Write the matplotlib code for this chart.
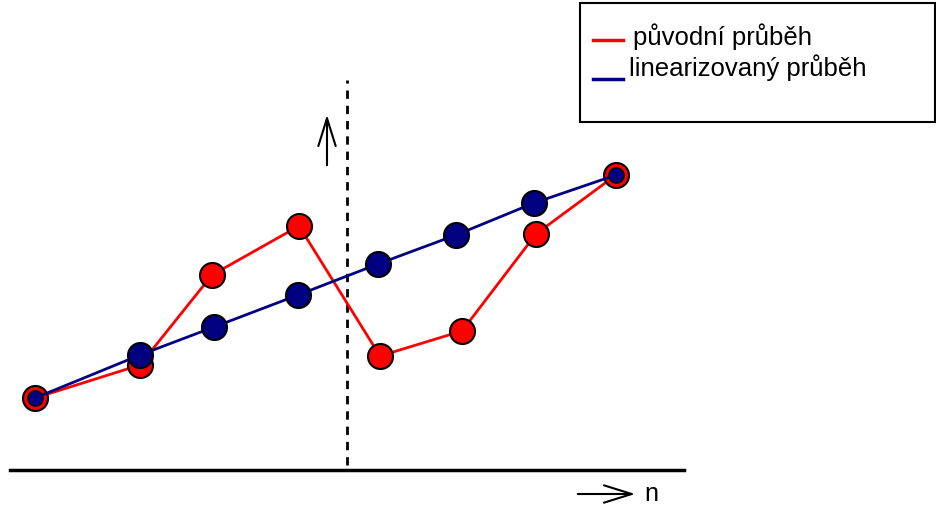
import matplotlib.pyplot as plt
from matplotlib.patches import Rectangle

plt.rcParams['font.family'] = ['Liberation Sans', 'DejaVu Sans']

# sample positions (pixel-like horizontal scale) and values above the baseline
x_orig = [35, 140, 212, 299, 380, 462, 536, 616]
y_orig = [72, 105, 195, 244, 114, 139, 236, 295]
x_lin = [35, 140, 214, 298, 378, 456, 534, 616]
y_lin = [72, 115, 143, 175, 206, 235, 267, 295]

labels = ['původní průběh', 'linearizovaný průběh']
red = '#ff0000'
navy = '#000080'

fig = plt.figure(figsize=(9.36, 5.05), dpi=100)
ax = fig.add_axes([0, 0, 1, 1])
ax.set_xlim(0, 936)
ax.set_ylim(-35, 470)
ax.axis('off')

# baseline and split line
ax.plot([10, 684], [0, 0], color='black', lw=2.5)
ax.plot([347, 347], [5, 390], color='black', lw=2, ls=(0, (3, 2.5)))

# arrows
ax.annotate('', xy=(327, 358), xytext=(327, 302),
            arrowprops=dict(arrowstyle='->,head_length=0.8,head_width=0.25', lw=1.5,
                            color='black', mutation_scale=25))
ax.annotate('', xy=(638, -24), xytext=(575, -24),
            arrowprops=dict(arrowstyle='->,head_length=0.8,head_width=0.25', lw=1.5,
                            color='black', mutation_scale=25))
ax.text(644, -24, 'n', fontsize=18, va='center', ha='left')

# series
ax.plot(x_orig, y_orig, color=red, lw=2, marker='o', ms=18,
        mfc=red, mec='black', mew=1.5, zorder=3)
ax.plot(x_lin, y_lin, color=navy, lw=2, zorder=4)
ax.plot(x_lin[1:-1], y_lin[1:-1], ls='none', marker='o', ms=18,
        mfc=navy, mec='black', mew=1.5, zorder=5)
ax.plot([x_lin[0], x_lin[-1]], [y_lin[0], y_lin[-1]], ls='none', marker='o', ms=11,
        mfc=navy, mec='black', mew=1.0, zorder=5)

# legend box
ax.add_patch(Rectangle((580, 348), 355, 119, fill=False, ec='black', lw=1.5, zorder=6))
ax.plot([593, 623], [430, 430], color=red, lw=2.5)
ax.text(633, 433, labels[0], fontsize=18.5, va='center', ha='left')
ax.plot([593, 623], [391, 391], color=navy, lw=2.5)
ax.text(629, 402, labels[1], fontsize=18.5, va='center', ha='left')

fig.savefig('out.png', dpi=100)
plt.close()
